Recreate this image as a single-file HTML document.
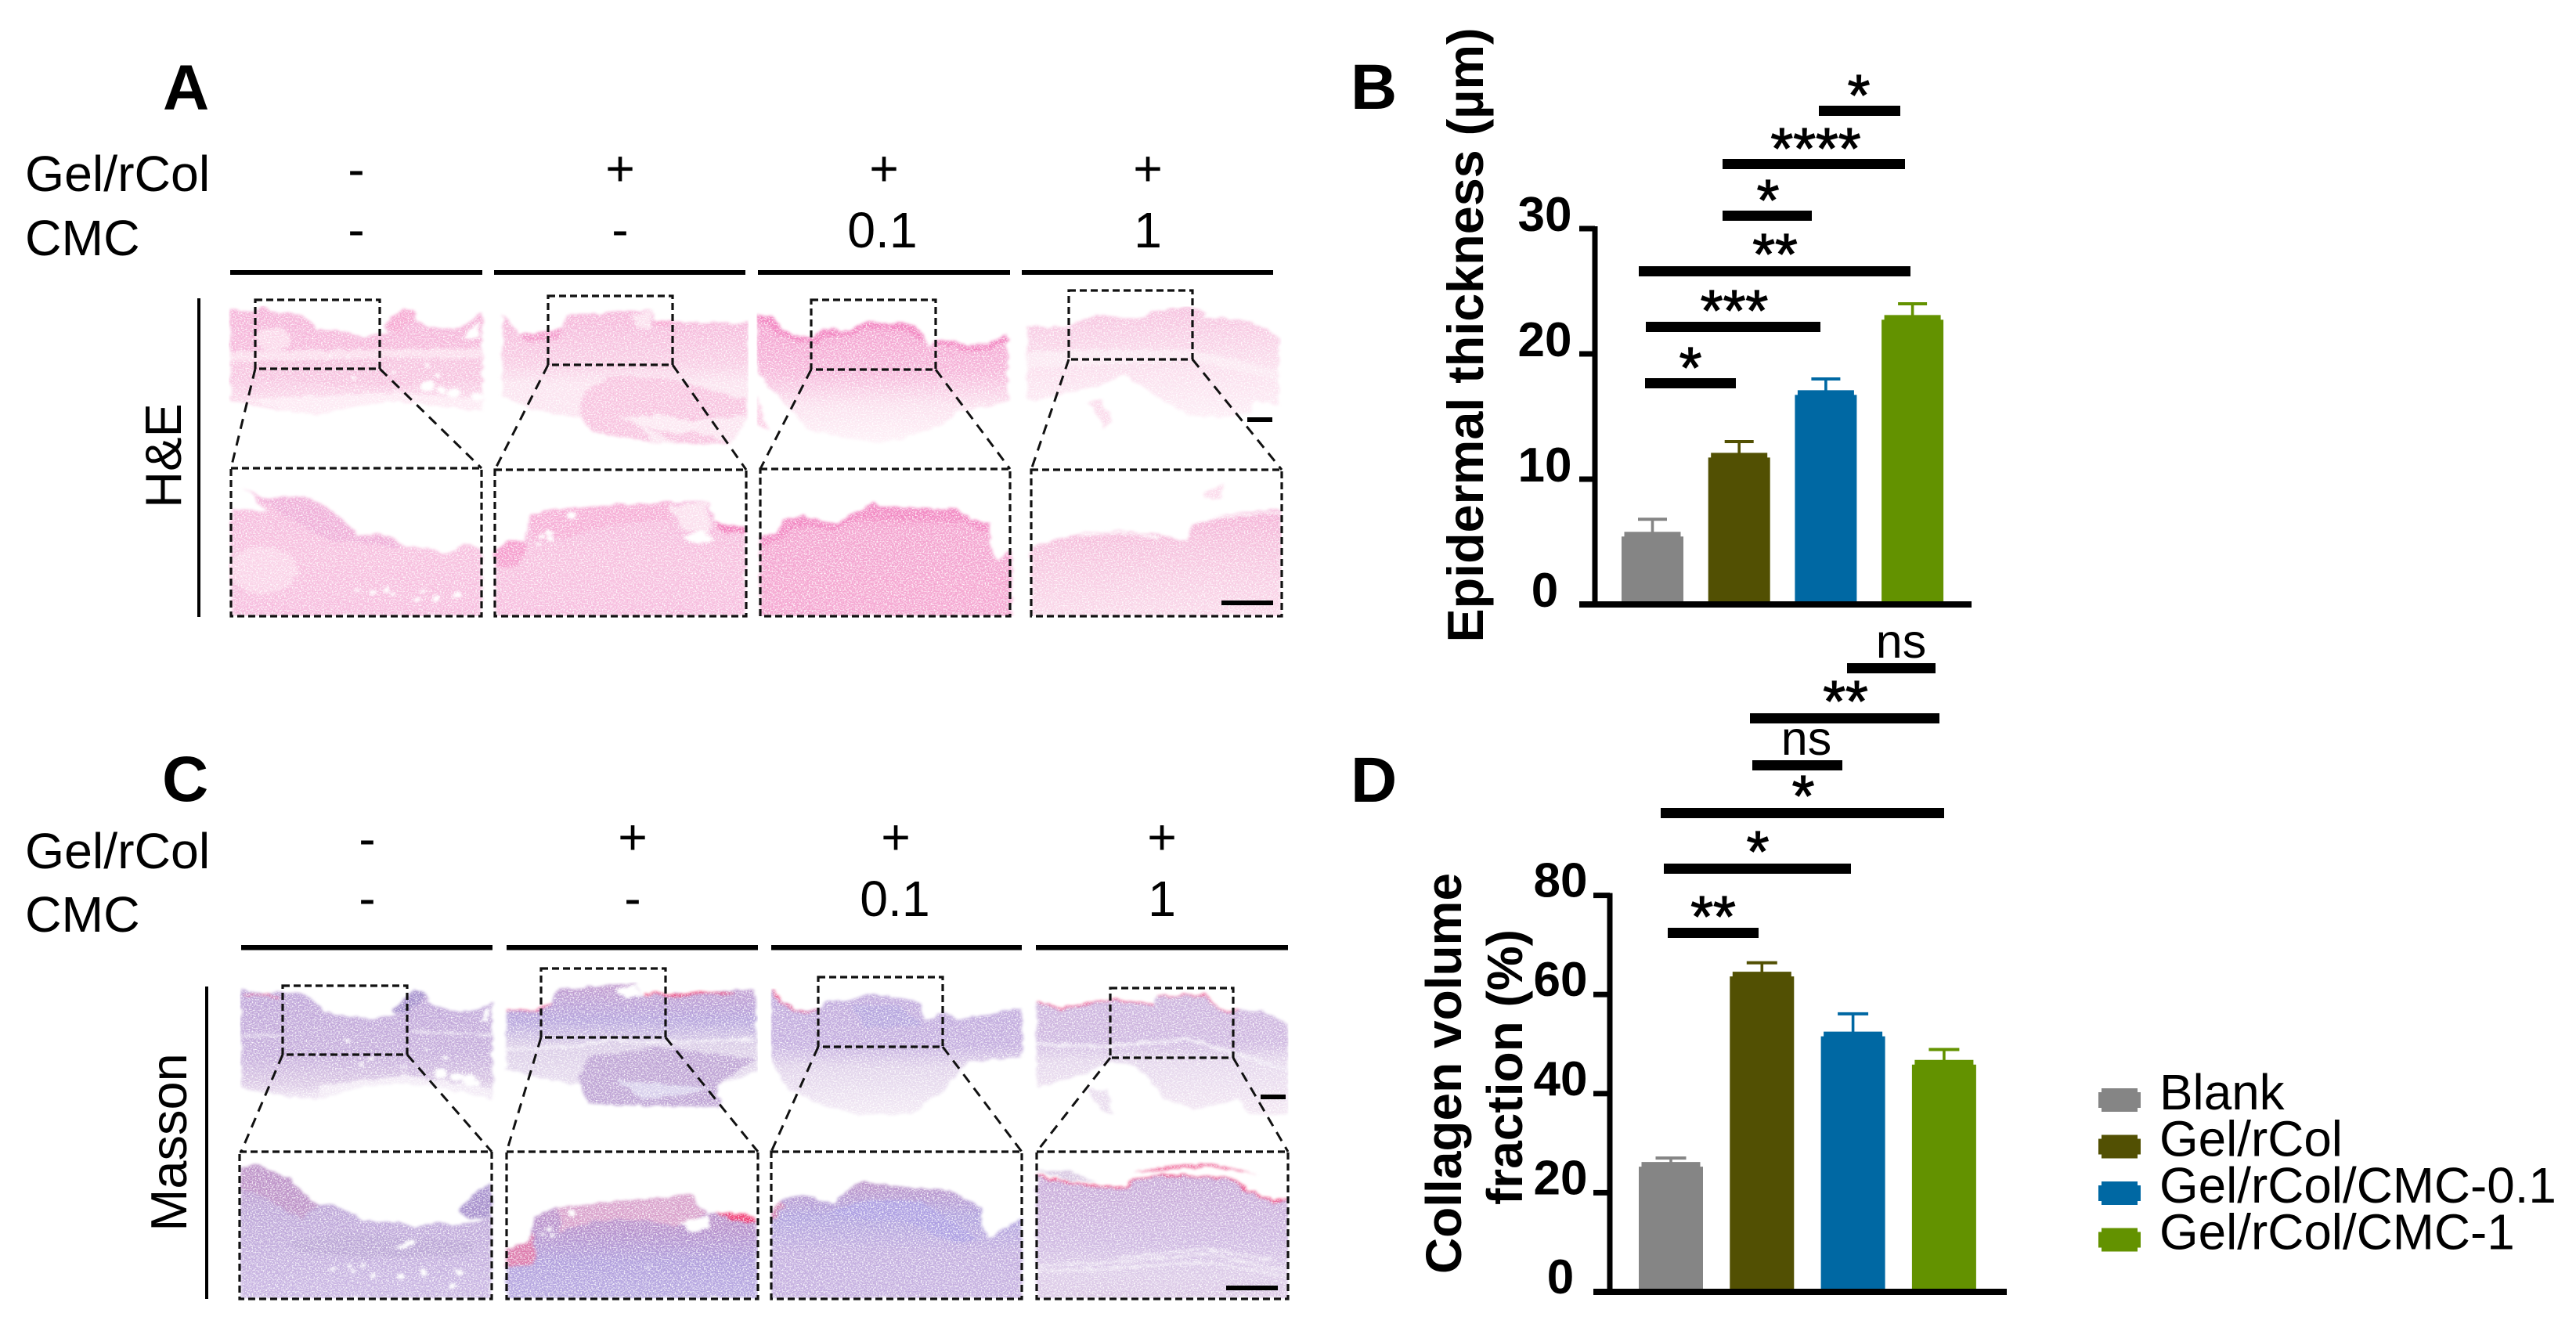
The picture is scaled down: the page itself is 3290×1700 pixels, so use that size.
<!DOCTYPE html>
<html lang="en">
<head>
<meta charset="utf-8">
<title>Histology and quantification figure</title>
<style>
html,body{margin:0;padding:0;background:#fff;}
svg{display:block;}
text{font-family:"Liberation Sans",Arial,sans-serif;fill:#000;}
.b{font-weight:700;}
.lab{font-size:64.4px;}
.pl{font-size:82px;font-weight:700;}
.star{font-size:74px;font-weight:400;text-anchor:middle;stroke:#000;stroke-width:1.2px;transform:translateY(-4px);}
.ns{font-size:61px;text-anchor:middle;}
.mid{text-anchor:middle;}
.dash{fill:none;stroke:#111;stroke-width:3.2;stroke-dasharray:9 5;}
.conn{fill:none;stroke:#111;stroke-width:3;stroke-dasharray:13 9;}
</style>
</head>
<body>
<svg id="figure" xmlns="http://www.w3.org/2000/svg" width="3290" height="1700" viewBox="0 0 3290 1700">
<defs>
<filter id="tex" x="0" y="0" width="1" height="1" color-interpolation-filters="sRGB">
<feTurbulence type="fractalNoise" baseFrequency="0.035" numOctaves="3" seed="7" result="warp"/>
<feDisplacementMap in="SourceGraphic" in2="warp" scale="22" xChannelSelector="R" yChannelSelector="G" result="d"/>
<feGaussianBlur in="d" stdDeviation="4 5" result="soft"/>
<feTurbulence type="fractalNoise" baseFrequency="0.22" numOctaves="2" seed="3" result="n"/>
<feColorMatrix in="n" type="matrix" values="0 0 0 0 1 0 0 0 0 1 0 0 0 0 1 0 0 0 3 -1.35" result="w"/>
<feComposite in="w" in2="soft" operator="in" result="wc"/>
<feMerge><feMergeNode in="soft"/><feMergeNode in="wc"/></feMerge>
</filter>
<linearGradient id="gHE" x1="0" y1="0" x2="0" y2="1"><stop offset="0" stop-color="#f5b2d8"/><stop offset=".55" stop-color="#f6bcdd"/><stop offset="1" stop-color="#fce4f0"/></linearGradient>
<linearGradient id="gHE2" x1="0" y1="0" x2="0" y2="1"><stop offset="0" stop-color="#f5b4d9"/><stop offset=".4" stop-color="#f8ccE4"/><stop offset=".55" stop-color="#fbe4f0"/><stop offset="1" stop-color="#fbe4f0"/></linearGradient>
<linearGradient id="gHE3" x1="0" y1="0" x2="0" y2="1"><stop offset="0" stop-color="#f39ccd"/><stop offset=".45" stop-color="#f6b6da"/><stop offset=".7" stop-color="#fbe0ee"/><stop offset="1" stop-color="#fef2f8"/></linearGradient>
<linearGradient id="gHE4" x1="0" y1="0" x2="0" y2="1"><stop offset="0" stop-color="#f6c0de"/><stop offset=".5" stop-color="#fadcec"/><stop offset="1" stop-color="#fdeef6"/></linearGradient>
<linearGradient id="gHEl1" x1="0" y1="0" x2="0" y2="1"><stop offset="0" stop-color="#f5b8dc"/><stop offset=".5" stop-color="#f7c0df"/><stop offset="1" stop-color="#f7bedf"/></linearGradient>
<linearGradient id="gHEl3" x1="0" y1="0" x2="0" y2="1"><stop offset="0" stop-color="#f38fc6"/><stop offset=".25" stop-color="#f4a4d0"/><stop offset="1" stop-color="#f5a8d2"/></linearGradient>
<linearGradient id="gHEl4" x1="0" y1="0" x2="0" y2="1"><stop offset="0" stop-color="#f4b0d6"/><stop offset=".35" stop-color="#f6c2de"/><stop offset="1" stop-color="#fad9ea"/></linearGradient>
<linearGradient id="gM" x1="0" y1="0" x2="0" y2="1"><stop offset="0" stop-color="#bea4d8"/><stop offset=".6" stop-color="#c6aedc"/><stop offset=".85" stop-color="#d9c6e4"/><stop offset="1" stop-color="#f0e6f4"/></linearGradient>
<linearGradient id="gM2" x1="0" y1="0" x2="0" y2="1"><stop offset="0" stop-color="#c39ccf"/><stop offset=".3" stop-color="#b5a3dc"/><stop offset=".5" stop-color="#d9cbe6"/><stop offset=".8" stop-color="#e6dbee"/><stop offset="1" stop-color="#efe7f3"/></linearGradient>
<linearGradient id="gM3" x1="0" y1="0" x2="0" y2="1"><stop offset="0" stop-color="#c0a9dc"/><stop offset=".45" stop-color="#c4aedf"/><stop offset=".62" stop-color="#e0d2ea"/><stop offset="1" stop-color="#f3eaf5"/></linearGradient>
<linearGradient id="gM4" x1="0" y1="0" x2="0" y2="1"><stop offset="0" stop-color="#cdb4de"/><stop offset=".4" stop-color="#ceb7e0"/><stop offset=".55" stop-color="#e4d6ec"/><stop offset="1" stop-color="#f3e7f3"/></linearGradient>
<linearGradient id="gMl1" x1="0" y1="0" x2="0" y2="1"><stop offset="0" stop-color="#ba92c8"/><stop offset=".35" stop-color="#bda6d8"/><stop offset="1" stop-color="#cbb8e4"/></linearGradient>
<linearGradient id="gMl2" x1="0" y1="0" x2="0" y2="1"><stop offset="0" stop-color="#c493c8"/><stop offset=".35" stop-color="#b590cc"/><stop offset=".65" stop-color="#b09edc"/><stop offset="1" stop-color="#b9abe2"/></linearGradient>
<linearGradient id="gMl3" x1="0" y1="0" x2="0" y2="1"><stop offset="0" stop-color="#bb93c8"/><stop offset=".3" stop-color="#b0a2de"/><stop offset=".6" stop-color="#c3aedf"/><stop offset="1" stop-color="#c7b2e1"/></linearGradient>
<linearGradient id="gMl4" x1="0" y1="0" x2="0" y2="1"><stop offset="0" stop-color="#c8a9d8"/><stop offset=".55" stop-color="#cfb9e2"/><stop offset=".8" stop-color="#dccbe8"/><stop offset="1" stop-color="#dcc9e6"/></linearGradient>
</defs>

<!-- PANEL A -->
<text class="pl" x="208" y="140">A</text>
<text class="lab" x="32" y="244">Gel/rCol</text>
<text class="lab" x="32" y="326">CMC</text>
<g class="lab mid">
<text x="455" y="238">-</text>
<text x="792" y="237">+</text>
<text x="1129" y="237">+</text>
<text x="1466" y="237">+</text>
<text x="455" y="315">-</text>
<text x="792" y="315">-</text>
<text x="1127" y="316">0.1</text>
<text x="1466" y="316">1</text>
</g>
<g fill="#000">
<rect x="294" y="345" width="322" height="6"/>
<rect x="631" y="345" width="321" height="6"/>
<rect x="968" y="345" width="322" height="6"/>
<rect x="1305" y="345" width="321" height="6"/>
<rect x="252" y="381" width="4" height="407"/>
</g>
<text transform="translate(231,582) rotate(-90)" class="mid" font-size="65">H&amp;E</text>

<!-- A left pair -->
<g filter="url(#tex)" transform="translate(290,370) scale(.4337,.3333)">
<polygon fill="url(#gHE)" points="10,75 80,85 105,62 130,85 215,95 240,115 265,150 320,155 400,182 440,170 480,170 462,135 520,70 550,80 555,115 600,145 680,150 750,90 750,465 640,445 500,425 400,440 260,480 170,465 60,440 10,425"/>
<polygon fill="#fbdcec" points="10,235 750,225 750,265 10,275"/>
<polygon fill="#f6a9d2" points="465,135 520,70 550,80 545,120 500,170"/>
<polygon fill="#fff" points="695,188 742,120 742,188"/>
<ellipse cx="135" cy="190" rx="50" ry="45" fill="#fbd8ea"/>
<polygon fill="#f7c4e0" points="10,275 10,330 80,340 300,360 500,370 750,350 750,265 500,260 300,270"/>
<polygon fill="#fdeaf4" points="60,420 200,410 500,395 750,420 750,462 640,442 500,422 400,438 260,478 170,462"/>
<g fill="#fff"><circle cx="590" cy="370" r="20"/><circle cx="635" cy="385" r="15"/><circle cx="668" cy="398" r="18"/><circle cx="735" cy="410" r="16"/><circle cx="620" cy="325" r="8"/><circle cx="590" cy="290" r="6"/><circle cx="300" cy="255" r="5"/><circle cx="355" cy="265" r="6"/><circle cx="375" cy="340" r="10"/><circle cx="490" cy="318" r="7"/></g>
<polygon fill="url(#gHEl1)" points="12,840 125,852 50,760 100,800 225,790 290,830 340,880 385,940 470,940 520,985 590,990 650,1010 700,970 750,995 750,1250 12,1250"/>
<polygon fill="#efaed8" points="100,805 225,795 290,835 340,885 385,945 470,945 510,990 400,970 300,960 200,890"/>
<ellipse cx="105" cy="1075" rx="100" ry="90" fill="#fad3e8"/>
<g fill="#fff"><circle cx="380" cy="1155" r="7"/><circle cx="432" cy="1160" r="9"/><circle cx="472" cy="1150" r="8"/><circle cx="490" cy="1168" r="8"/><circle cx="562" cy="1185" r="9"/><circle cx="578" cy="1160" r="6"/><circle cx="620" cy="1182" r="11"/><circle cx="680" cy="1170" r="12"/></g>
<polygon fill="url(#gHE2)" points="812,90 860,170 945,160 985,150 1000,100 1130,85 1250,78 1255,115 1310,125 1535,130 1535,480 1485,590 1400,592 1330,590 1250,585 1070,540 1040,490 900,460 812,400"/>
<polygon fill="#f8c4e0" points="1050,390 1130,330 1300,340 1530,420 1530,480 1400,500 1330,520 1480,590 1330,590 1210,510 1250,585 1070,540 1040,480"/>
<polygon fill="#fce8f2" points="1150,490 1280,480 1400,510 1340,560 1220,520"/>
<polygon fill="#f7a4d0" points="1255,115 1310,122 1340,135 1270,140"/>
<polygon fill="#f39bcc" points="830,130 860,170 945,160 985,150 970,190 880,200"/>
<polygon fill="#fbe0ee" points="1190,95 1250,80 1250,150 1210,150"/>
<polygon fill="url(#gHEl1)" points="790,1000 820,965 875,960 895,870 950,842 1150,825 1310,815 1415,815 1440,890 1525,910 1525,1250 790,1250"/>
<polygon fill="#f59ccd" points="790,1000 820,965 875,960 880,1000 850,1060 790,1060"/>
<polygon fill="#f6aed6" points="895,870 950,842 1150,825 1310,815 1300,880 1130,900 1000,950 900,960"/>
<polygon fill="#f27fbd" points="1440,890 1525,910 1525,935 1455,930"/>
<polygon fill="#fbe0ee" points="1300,830 1415,815 1425,950 1340,920"/>
<polygon fill="#fff" points="1340,945 1400,925 1430,962 1380,972"/>
<g fill="#fff"><circle cx="1015" cy="865" r="12"/><circle cx="925" cy="942" r="10"/><circle cx="948" cy="930" r="10"/><circle cx="948" cy="952" r="10"/><circle cx="918" cy="975" r="6"/></g>
</g>

<!-- A right pair -->
<g filter="url(#tex)" transform="translate(960,370) scale(.4337,.3333)">
<polygon fill="url(#gHE3)" points="15,95 55,100 85,150 135,175 190,180 210,150 285,155 330,120 470,130 510,180 520,225 545,190 605,195 630,215 695,205 752,170 752,430 600,470 570,510 450,570 380,585 280,570 170,540 120,470 60,380 15,310"/>
<polygon fill="#fbd0e6" points="15,400 50,540 15,520"/>
<polyline fill="none" stroke="#f283c0" stroke-width="22" points="15,110 50,115 85,165 135,190 190,195 210,165 285,170 330,135 470,145 500,190"/>
<polyline fill="none" stroke="#f283c0" stroke-width="16" points="540,205 605,210 630,230 695,220 752,185"/>
<polygon fill="url(#gHEl3)" points="25,945 75,935 95,885 150,865 250,900 305,850 360,815 380,830 600,842 650,880 700,900 705,990 725,1040 765,995 765,1250 25,1250"/>
<polygon fill="#f289c3" points="25,945 75,935 95,885 150,865 250,900 305,850 360,815 380,830 600,842 650,880 700,900 700,935 620,890 400,880 300,885 250,925 150,905 90,950 25,990"/>
<polygon fill="url(#gHE4)" points="812,140 920,145 1010,100 1160,110 1175,85 1280,65 1340,85 1330,105 1440,115 1510,145 1552,185 1552,440 1480,420 1470,470 1380,490 1280,480 1150,370 1100,325 1030,365 950,390 830,425 812,420"/>
<polygon fill="#fbdcec" points="990,430 1030,425 1060,500 1040,530"/>
<polygon fill="#fbe8f2" points="812,240 1000,230 1300,230 1552,310 1552,350 1300,270 1000,290 812,300"/>
<polygon fill="url(#gHEl4)" points="825,985 960,935 1100,925 1200,940 1285,965 1300,900 1400,860 1560,840 1560,1250 825,1250"/>
<polyline fill="none" stroke="#fff" stroke-width="7" points="1290,900 1400,868 1560,852"/>
<polyline fill="none" stroke="#fff" stroke-width="6" points="960,942 1100,932 1200,948"/>
<polygon fill="#fbdcec" points="1330,780 1390,740 1380,800 1355,810"/>
</g>

<g>
<rect class="dash" x="326" y="383" width="159" height="88"/>
<rect class="dash" x="700" y="378" width="159" height="88"/>
<rect class="dash" x="1036" y="383" width="159" height="89"/>
<rect class="dash" x="1365" y="371" width="158" height="88"/>
<rect class="dash" x="295" y="598" width="320" height="189"/>
<rect class="dash" x="632" y="600" width="321" height="187"/>
<rect class="dash" x="971" y="599" width="319" height="188"/>
<rect class="dash" x="1317" y="600" width="320" height="187"/>
<path class="conn" d="M326 471L295 598M485 471L615 598M700 466L632 600M859 466L953 600M1036 472L971 599M1195 472L1290 599M1365 459L1317 600M1523 459L1637 600"/>
<rect x="1593" y="533" width="32" height="6" fill="#000"/>
<rect x="1560" y="767" width="66" height="6" fill="#000"/>
</g>

<!-- PANEL C -->
<text class="pl" x="207" y="1023">C</text>
<text class="lab" x="32" y="1109">Gel/rCol</text>
<text class="lab" x="32" y="1190">CMC</text>
<g class="lab mid">
<text x="469" y="1093">-</text>
<text x="808" y="1091">+</text>
<text x="1144" y="1091">+</text>
<text x="1484" y="1091">+</text>
<text x="469" y="1169">-</text>
<text x="808" y="1169">-</text>
<text x="1143" y="1170">0.1</text>
<text x="1484" y="1170">1</text>
</g>
<g fill="#000">
<rect x="308" y="1207" width="321" height="6.5"/>
<rect x="647" y="1207" width="321" height="6.5"/>
<rect x="985" y="1207" width="320" height="6.5"/>
<rect x="1323" y="1207" width="322" height="6.5"/>
<rect x="262" y="1260" width="4" height="399"/>
</g>
<text transform="translate(238,1459) rotate(-90)" class="mid" font-size="65">Masson</text>

<!-- C left pair -->
<g filter="url(#tex)" transform="translate(300,1240) scale(.4337,.3333)">
<polygon fill="url(#gM)" points="18,70 95,90 130,80 210,90 260,150 330,175 410,185 480,170 465,150 530,70 560,85 570,120 640,155 710,155 755,120 758,490 620,450 500,430 380,440 250,490 200,490 160,480 100,470 18,450"/>
<polygon fill="#a48fcc" points="465,155 530,70 560,85 540,130 500,165"/>
<polyline fill="none" stroke="#e6dcef" stroke-width="10" points="18,248 130,245"/>
<polyline fill="none" stroke="#e6dcef" stroke-width="8" points="520,232 755,246"/>
<polygon fill="#f3ebf6" points="250,440 500,400 755,450 755,488 620,450 500,430 380,440 250,488"/>
<polygon fill="#fff" points="718,195 748,135 750,145 742,200"/>
<g fill="#fff"><circle cx="605" cy="392" r="20"/><circle cx="652" cy="406" r="18"/><circle cx="688" cy="418" r="20"/><circle cx="712" cy="430" r="12"/><circle cx="560" cy="300" r="6"/><circle cx="620" cy="330" r="8"/><circle cx="400" cy="335" r="7"/><circle cx="370" cy="360" r="9"/><circle cx="330" cy="270" r="7"/><circle cx="500" cy="370" r="6"/></g>
<polyline fill="none" stroke="#ef5a8c" stroke-width="5" points="30,92 95,92 130,100"/>
<polygon fill="url(#gMl1)" points="15,755 60,740 160,795 240,900 300,900 380,960 470,960 530,985 590,965 660,975 755,945 755,1255 15,1255"/>
<polygon fill="#bd93c8" points="15,755 60,740 160,795 240,900 200,950 100,880 15,830"/>
<polygon fill="#a68fcc" points="660,915 710,850 755,815 755,945 690,950"/>
<polygon fill="#bba6d6" points="160,1040 300,1000 520,1020 700,1040 700,1090 400,1100 200,1080"/>
<polygon fill="#fff" points="470,1060 530,1030 530,1050 480,1065"/>
<g fill="#fff"><circle cx="290" cy="1142" r="9"/><circle cx="340" cy="1130" r="8"/><circle cx="350" cy="1150" r="9"/><circle cx="375" cy="1130" r="7"/><circle cx="408" cy="1168" r="9"/><circle cx="488" cy="1172" r="12"/><circle cx="555" cy="1155" r="10"/><circle cx="640" cy="1208" r="10"/><circle cx="660" cy="1155" r="12"/></g>
<polygon fill="url(#gM2)" points="800,155 890,150 935,125 945,75 1180,45 1195,95 1260,90 1530,70 1540,380 1420,440 1430,520 1280,518 1130,515 1040,505 1020,440 900,410 800,380"/>
<polygon fill="#fff" points="1120,70 1180,50 1195,100 1150,110"/>
<polygon fill="#bfa5d5" points="1010,420 1040,330 1250,290 1530,340 1420,440 1430,520 1280,518 1130,515 1040,505"/>
<polygon fill="#d8d0ec" points="1120,420 1240,430 1400,450 1290,480 1200,490"/>
<polyline fill="none" stroke="#f3eef8" stroke-width="9" points="800,300 1000,290 1100,265 1280,275 1530,262"/>
<polyline fill="none" stroke="#ef3b72" stroke-width="7" points="1210,85 1300,92 1380,82 1470,88"/>
<polyline fill="none" stroke="#ee5a8e" stroke-width="5" points="800,155 890,150 935,125"/>
<polygon fill="url(#gMl2)" points="800,1065 860,1040 885,940 950,905 1150,880 1345,855 1390,935 1420,930 1535,945 1540,1255 800,1255"/>
<polygon fill="#dc7aac" points="800,1065 860,1040 875,1000 890,1100 870,1130 800,1130"/>
<polygon fill="#d9a2cc" points="950,905 1150,880 1345,855 1385,935 1300,980 1200,950 1060,960 960,1000"/>
<polygon fill="#f03a72" points="1420,925 1480,930 1535,945 1535,965 1460,955"/>
<polygon fill="#fff" points="1310,965 1390,940 1400,985 1340,1000"/>
<g fill="#fff"><circle cx="993" cy="930" r="12"/><circle cx="925" cy="990" r="9"/><circle cx="908" cy="1010" r="7"/><circle cx="935" cy="1015" r="8"/><circle cx="1218" cy="1135" r="6"/></g>
</g>

<!-- C right pair -->
<g filter="url(#tex)" transform="translate(975,1240) scale(.4337,.3333)">
<polygon fill="url(#gM3)" points="22,68 50,110 95,150 165,150 180,115 250,115 300,90 430,110 465,125 470,190 530,160 575,185 650,170 760,142 762,330 600,350 530,460 430,550 280,550 160,510 70,450 22,330"/>
<polygon fill="#b5a5de" points="260,130 400,130 440,180 470,210 300,220"/>
<polyline fill="none" stroke="#ee4f86" stroke-width="5" points="24,70 50,115 95,155 165,155"/>
<polygon fill="url(#gMl3)" points="22,950 50,880 120,860 205,895 270,820 300,810 420,830 550,840 640,910 640,970 665,1025 760,950 762,1255 22,1255"/>
<polygon fill="#d084b4" points="22,935 50,880 60,900 35,950 22,950"/>
<polygon fill="#ad9fe2" points="180,930 300,880 460,880 570,970 640,1030 560,1040 420,960 300,950"/>
<polygon fill="url(#gM4)" points="805,120 880,145 1020,110 1150,130 1160,100 1300,90 1345,155 1400,150 1470,155 1545,205 1545,550 1430,550 1400,490 1270,530 1180,490 1100,360 1010,345 950,395 805,445"/>
<polyline fill="none" stroke="#efe8f5" stroke-width="12" points="805,280 1000,290 1250,262 1545,380"/>
<polygon fill="#e9dcee" points="950,450 1010,460 1030,550 990,530"/>
<polyline fill="none" stroke="#ef5c90" stroke-width="5" points="805,120 880,145 1020,110 1150,130"/>
<polyline fill="none" stroke="#ef5c90" stroke-width="5" points="1160,100 1300,90 1345,155 1400,150"/>
<polygon fill="url(#gMl4)" points="805,785 940,820 1070,830 1090,795 1180,780 1370,790 1430,840 1500,885 1545,870 1545,1255 805,1255"/>
<g fill="none" stroke="#f2ecf6" stroke-width="7">
<polyline points="805,1130 1050,1115 1300,1085 1545,1150"/>
<polyline points="805,1150 1050,1140 1300,1115 1545,1170"/>
<polyline points="1050,1100 1300,1065 1500,1110"/>
</g>
<polyline fill="none" stroke="#ef4a80" stroke-width="6" points="805,785 940,822 1070,832 1090,797 1180,782 1370,792 1430,842 1500,887 1545,872"/>
<polygon fill="#ef6a9a" points="1090,775 1200,745 1320,738 1460,780 1320,750 1200,760"/>
<polygon fill="#d8c8e2" points="805,765 900,765 980,810 900,805"/>
</g>

<g>
<rect class="dash" x="361" y="1259" width="159" height="88"/>
<rect class="dash" x="691" y="1237" width="159" height="88"/>
<rect class="dash" x="1045" y="1248" width="159" height="89"/>
<rect class="dash" x="1418" y="1262" width="157" height="89"/>
<rect class="dash" x="306" y="1471" width="322" height="188"/>
<rect class="dash" x="647" y="1471" width="321" height="188"/>
<rect class="dash" x="985" y="1471" width="320" height="188"/>
<rect class="dash" x="1324" y="1471" width="321" height="188"/>
<path class="conn" d="M361 1347L308 1471M520 1347L628 1471M691 1325L647 1471M850 1325L968 1471M1045 1337L985 1471M1204 1337L1305 1471M1418 1351L1324 1471M1575 1351L1645 1471"/>
<rect x="1610" y="1398" width="32" height="6" fill="#000"/>
<rect x="1566" y="1642" width="66" height="6" fill="#000"/>
</g>

<!-- PANEL B annotations -->
<text class="pl" x="1725" y="139">B</text>
<text class="b" transform="translate(1894,428) rotate(-90)" text-anchor="middle" font-size="64.7">Epidermal thickness (µm)</text>
<g>
<rect x="2101" y="483" width="116" height="13"/>
<text class="star" x="2159" y="499">*</text>
<rect x="2102" y="411" width="223" height="13"/>
<text class="star" x="2215" y="426">***</text>
<rect x="2093" y="340" width="347" height="13"/>
<text class="star" x="2267" y="354">**</text>
<rect x="2200" y="269" width="114" height="13"/>
<text class="star" x="2258" y="285">*</text>
<rect x="2200" y="203" width="233" height="13"/>
<text class="star" x="2319" y="219">****</text>
<rect x="2323" y="135" width="104" height="13"/>
<text class="star" x="2374" y="151">*</text>
</g>

<!-- PANEL D annotations -->
<text class="pl" x="1725" y="1024">D</text>
<text class="b" transform="translate(1866,1371) rotate(-90)" text-anchor="middle" font-size="64">Collagen volume</text>
<text class="b" transform="translate(1944,1363) rotate(-90)" text-anchor="middle" font-size="64">fraction (%)</text>
<g>
<rect x="2130" y="1185" width="116" height="13"/>
<text class="star" x="2188" y="1200">**</text>
<rect x="2125" y="1103" width="239" height="13"/>
<text class="star" x="2245" y="1117">*</text>
<rect x="2121" y="1032" width="362" height="13"/>
<text class="star" x="2303" y="1046">*</text>
<rect x="2238" y="971" width="115" height="13"/>
<text class="ns" x="2307" y="964">ns</text>
<rect x="2235" y="911" width="242" height="13"/>
<text class="star" x="2357" y="925">**</text>
<rect x="2359" y="847" width="113" height="13"/>
<text class="ns" x="2428" y="840">ns</text>
</g>

<g id="chart-b"></g>
<g id="chart-d"></g>
<g id="legend"></g>
</svg>

<script>
const categories = ["Blank", "Gel/rCol", "Gel/rCol/CMC-0.1", "Gel/rCol/CMC-1"];
const thicknessValues = [5.8, 12.1, 17.1, 23.1];
const thicknessErrors = [1.0, 0.9, 0.9, 0.9];
const collagenValues = [26.2, 64.6, 52.5, 46.8];
const collagenErrors = [0.8, 1.8, 3.6, 2.1];
const thicknessTicks = [0, 10, 20, 30];
const thicknessTickLabels = ["0", "10", "20", "30"];
const collagenTicks = [0, 20, 40, 60, 80];
const collagenTickLabels = ["0", "20", "40", "60", "80"];
const barColors = ["#858585", "#525003", "#0068a3", "#639200"];

const NS = "http://www.w3.org/2000/svg";
function mk(parent, tag, attrs, txt) {
  const e = document.createElementNS(NS, tag);
  for (const k in attrs) e.setAttribute(k, attrs[k]);
  if (txt !== undefined) e.textContent = txt;
  parent.appendChild(e);
  return e;
}

// axis functions
const yThickness = v => 772 - v * 16;
const xThickness = i => 2071 + i * 110.7;
const yCollagen = v => 1650 - v * 6.33;
const xCollagen = i => 2093 + i * 116.3;

function drawChart(id, prefix, values, errors, ticks, tickLabels, x, y, o) {
  const g = document.getElementById(id);
  values.forEach((v, i) => {
    const left = x(i), top = y(v), base = y(0), w = o.barWidth, mid = left + w / 2, capY = y(v + errors[i]);
    const stem = mk(g, "rect", {x: mid - 1.8, y: capY, width: 3.6, height: top - capY + 2, fill: barColors[i]});
    
    
    const cap = mk(g, "rect", {x: mid - o.capWidth / 2, y: capY - 2, width: o.capWidth, height: 4, fill: barColors[i]});
    
    
    const d = "M" + left + " " + base + "V" + (top + 6) + "H" + (left + 3.5) + "V" + top + "H" + (left + w - 3.5) + "V" + (top + 6) + "H" + (left + w) + "V" + base + "Z";
    const bar = mk(g, "path", {d: d, fill: barColors[i]});
    
    
    mk(bar, "title", {}, categories[i] + ": " + v);
  });
  const yAxis = mk(g, "rect", {x: o.axisX - 3.5, y: y(ticks[ticks.length - 1]) - 3, width: 7, height: y(0) - y(ticks[ticks.length - 1]) + 7, fill: "#000"});
  
  
  const xAxis = mk(g, "rect", {x: o.axisLeft, y: y(0) - 4, width: o.axisRight - o.axisLeft, height: 8, fill: "#000"});
  
  
  ticks.forEach((v, i) => {
    const tick = mk(g, "rect", {x: o.axisLeft, y: y(v) - 3.5, width: o.axisX - o.axisLeft, height: 7, fill: "#000"});
    
    
    const lab = mk(g, "text", {x: o.labelX, y: y(v) + o.labelDy, "text-anchor": "middle", "font-size": 62, "font-weight": 700}, tickLabels[i]);
    
    
  });
}

drawChart("chart-b", "thickness", thicknessValues, thicknessErrors, thicknessTicks, thicknessTickLabels, xThickness, yThickness,
  {barWidth: 79, capWidth: 37, axisX: 2037, axisLeft: 2017, axisRight: 2518, labelX: 1973, labelDy: 3});
drawChart("chart-d", "collagen", collagenValues, collagenErrors, collagenTicks, collagenTickLabels, xCollagen, yCollagen,
  {barWidth: 82, capWidth: 39, axisX: 2056, axisLeft: 2035, axisRight: 2563, labelX: 1993, labelDy: 2});

const legendGroup = document.getElementById("legend");
categories.forEach((c, i) => {
  const top = 1390 + i * 59.5;
  const sw = mk(legendGroup, "path", {d: "M2680 " + (top + 5) + "H2684V" + top + "H2730V" + (top + 5) + "H2734V" + (top + 25) + "H2730V" + (top + 30) + "H2684V" + (top + 25) + "H2680Z", fill: barColors[i]});
  
  
  const tx = mk(legendGroup, "text", {x: 2758, y: top + 27, "font-size": 63.8}, c);
  
  
});
</script>
</body>
</html>
